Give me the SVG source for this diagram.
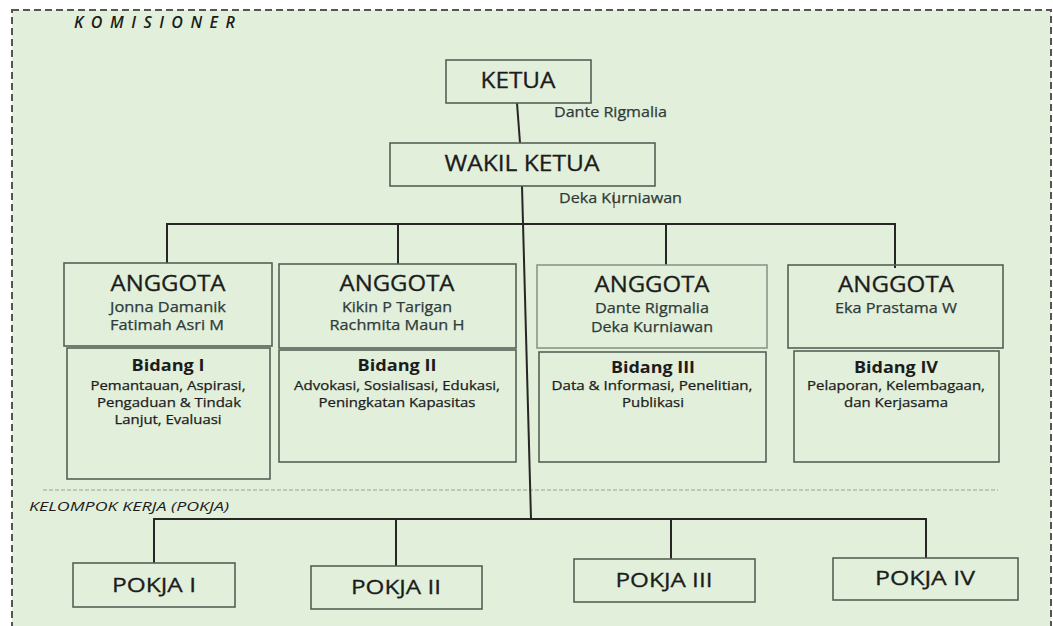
<svg xmlns="http://www.w3.org/2000/svg" width="1053" height="626" viewBox="0 0 1053 626">
<defs>
<style>
.frame{fill:#e2efda;stroke:#555;stroke-width:2;stroke-dasharray:7 4}
.sep{fill:none;stroke:#9aa39a;stroke-width:1;stroke-dasharray:4 2}
.box{fill:none;stroke:#556155;stroke-width:1.6}
.boxl{fill:none;stroke:#8a978a;stroke-width:1.6}
.con{fill:none;stroke:#262626;stroke-width:2}
text{font-family:"Open Sans","Liberation Sans",sans-serif;text-anchor:middle}
.h{font-size:22px;fill:#1c1c1c;stroke:#1c1c1c;stroke-width:0.3}
.p{font-size:20.5px;fill:#1c1c1c;stroke:#1c1c1c;stroke-width:0.3}
.n{font-size:14px;fill:#2e3b3b;stroke:#2e3b3b;stroke-width:0.25}
.b{font-size:16px;font-weight:bold;fill:#1c1c1c}
.d{font-size:12.5px;fill:#1c1c1c;stroke:#1c1c1c;stroke-width:0.25}
.lab{font-style:italic;fill:#1c1c1c;text-anchor:start}
</style>
</defs>
<rect x="0" y="0" width="1053" height="626" fill="#ffffff"/>
<rect class="frame" x="12" y="10" width="1039" height="640"/>
<text class="lab" x="74" y="28" font-size="16" font-weight="600" textLength="161" lengthAdjust="spacing">KOMISIONER</text>
<line class="sep" x1="43" y1="490" x2="998" y2="490"/>
<text class="lab" x="29" y="511" font-size="13.5" textLength="200" lengthAdjust="spacingAndGlyphs">KELOMPOK KERJA (POKJA)</text>

<g id="connectors">
<line class="con" x1="517" y1="103" x2="520" y2="143"/>
<line class="con" x1="522" y1="186" x2="531" y2="519"/>
<polyline class="con" points="167,263 167,224 895,224 895,268"/>
<line class="con" x1="398" y1="224" x2="398" y2="264"/>
<line class="con" x1="666" y1="224" x2="666" y2="265"/>
<polyline class="con" points="154,563 154,519 926,519 926,558"/>
<line class="con" x1="396" y1="519" x2="396" y2="566"/>
<line class="con" x1="671" y1="519" x2="671" y2="559"/>
</g>

<g id="ketua">
<rect class="box" x="446" y="60" width="145" height="43"/>
<text class="h" x="518" y="88" textLength="75" lengthAdjust="spacingAndGlyphs">KETUA</text>
<text class="n" x="554" y="117" style="text-anchor:start" textLength="113" lengthAdjust="spacingAndGlyphs">Dante Rigmalia</text>
</g>

<g id="wakil-ketua">
<rect class="box" x="390" y="143" width="265" height="43"/>
<text class="h" x="522" y="171" textLength="155" lengthAdjust="spacingAndGlyphs">WAKIL KETUA</text>
<text class="n" x="559" y="203" style="text-anchor:start" textLength="123" lengthAdjust="spacingAndGlyphs">Deka Kurniawan</text>
<line x1="614" y1="192" x2="614" y2="208" stroke="#333" stroke-width="1"/>
</g>

<g id="anggota-1">
<rect class="box" x="64" y="263" width="208" height="83"/>
<text class="h" x="168" y="291" textLength="115" lengthAdjust="spacingAndGlyphs">ANGGOTA</text>
<text class="n" x="168" y="312" textLength="116" lengthAdjust="spacingAndGlyphs">Jonna Damanik</text>
<text class="n" x="167" y="330" textLength="114" lengthAdjust="spacingAndGlyphs">Fatimah Asri M</text>
</g>
<g id="bidang-1">
<rect class="box" x="67" y="348" width="203" height="131"/>
<text class="b" x="168" y="371" textLength="73" lengthAdjust="spacingAndGlyphs">Bidang I</text>
<text class="d" x="168" y="390" textLength="155" lengthAdjust="spacingAndGlyphs">Pemantauan, Aspirasi,</text>
<text class="d" x="169" y="407" textLength="144" lengthAdjust="spacingAndGlyphs">Pengaduan &amp; Tindak</text>
<text class="d" x="168" y="424" textLength="107" lengthAdjust="spacingAndGlyphs">Lanjut, Evaluasi</text>
</g>

<g id="anggota-2">
<rect class="box" x="279" y="264" width="237" height="84"/>
<text class="h" x="397" y="291" textLength="115" lengthAdjust="spacingAndGlyphs">ANGGOTA</text>
<text class="n" x="397" y="312" textLength="110" lengthAdjust="spacingAndGlyphs">Kikin P Tarigan</text>
<text class="n" x="397" y="330" textLength="135" lengthAdjust="spacingAndGlyphs">Rachmita Maun H</text>
</g>
<g id="bidang-2">
<rect class="box" x="279" y="350" width="237" height="112"/>
<text class="b" x="397" y="371" textLength="79" lengthAdjust="spacingAndGlyphs">Bidang II</text>
<text class="d" x="397" y="390" textLength="206" lengthAdjust="spacingAndGlyphs">Advokasi, Sosialisasi, Edukasi,</text>
<text class="d" x="397" y="407" textLength="157" lengthAdjust="spacingAndGlyphs">Peningkatan Kapasitas</text>
</g>

<g id="anggota-3">
<rect class="boxl" x="537" y="265" width="230" height="83"/>
<text class="h" x="652" y="292" textLength="115" lengthAdjust="spacingAndGlyphs">ANGGOTA</text>
<text class="n" x="652" y="313" textLength="114" lengthAdjust="spacingAndGlyphs">Dante Rigmalia</text>
<text class="n" x="652" y="332" textLength="122" lengthAdjust="spacingAndGlyphs">Deka Kurniawan</text>
</g>
<g id="bidang-3">
<rect class="box" x="539" y="352" width="227" height="110"/>
<text class="b" x="653" y="373" textLength="84" lengthAdjust="spacingAndGlyphs">Bidang III</text>
<text class="d" x="652" y="390" textLength="201" lengthAdjust="spacingAndGlyphs">Data &amp; Informasi, Penelitian,</text>
<text class="d" x="653" y="407" textLength="62" lengthAdjust="spacingAndGlyphs">Publikasi</text>
</g>

<g id="anggota-4">
<rect class="box" x="788" y="265" width="215" height="83"/>
<text class="h" x="896" y="292" textLength="116" lengthAdjust="spacingAndGlyphs">ANGGOTA</text>
<text class="n" x="896" y="313" textLength="122" lengthAdjust="spacingAndGlyphs">Eka Prastama W</text>
</g>
<g id="bidang-4">
<rect class="box" x="794" y="351" width="205" height="111"/>
<text class="b" x="896" y="373" textLength="84" lengthAdjust="spacingAndGlyphs">Bidang IV</text>
<text class="d" x="896" y="390" textLength="178" lengthAdjust="spacingAndGlyphs">Pelaporan, Kelembagaan,</text>
<text class="d" x="896" y="407" textLength="104" lengthAdjust="spacingAndGlyphs">dan Kerjasama</text>
</g>

<g id="pokja-1">
<rect class="box" x="73" y="563" width="162" height="44"/>
<text class="p" x="154" y="592" textLength="84" lengthAdjust="spacingAndGlyphs">POKJA I</text>
</g>
<g id="pokja-2">
<rect class="box" x="311" y="566" width="171" height="43"/>
<text class="p" x="396" y="594" textLength="90" lengthAdjust="spacingAndGlyphs">POKJA II</text>
</g>
<g id="pokja-3">
<rect class="box" x="574" y="559" width="181" height="43"/>
<text class="p" x="664" y="587" textLength="97" lengthAdjust="spacingAndGlyphs">POKJA III</text>
</g>
<g id="pokja-4">
<rect class="box" x="833" y="558" width="185" height="42"/>
<text class="p" x="925" y="585" textLength="100" lengthAdjust="spacingAndGlyphs">POKJA IV</text>
</g>
</svg>
